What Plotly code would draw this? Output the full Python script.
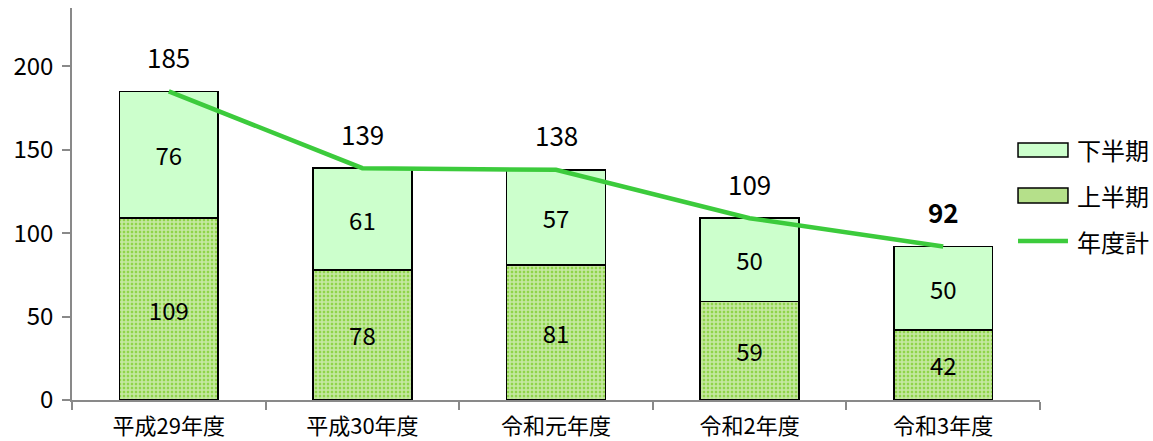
import plotly.graph_objects as go

categories = ["平成29年度", "平成30年度", "令和元年度", "令和2年度", "令和3年度"]
first_half = [109, 78, 81, 59, 42]
second_half = [76, 61, 57, 50, 50]
totals = [185, 139, 138, 109, 92]
y_ticks = [0, 50, 100, 150, 200]
legend_names = ["下半期", "上半期", "年度計"]

FONT = "Noto Sans CJK JP"
GRAY = "#898989"
LIGHT = "#CCFFCC"
GREEN = "#8FD44A"
LINE = "#3CCB3C"

fig = go.Figure()
fig.add_trace(go.Bar(
    x=categories, y=first_half, name=legend_names[1],
    marker=dict(color=GREEN,
                line=dict(color="black", width=1.5),
                pattern=dict(shape="+", bgcolor=GREEN, fgcolor="white",
                             size=4, solidity=0.62, fillmode="overlay")),
    text=[str(v) for v in first_half], textposition="inside",
    insidetextanchor="middle", textangle=0,
    textfont=dict(color="black", size=24, family=FONT),
    width=0.51, showlegend=False,
))
fig.add_trace(go.Bar(
    x=categories, y=second_half, name=legend_names[0],
    marker=dict(color=LIGHT, line=dict(color="black", width=1.5)),
    text=[str(v) for v in second_half], textposition="inside",
    insidetextanchor="middle", textangle=0,
    textfont=dict(color="black", size=24, family=FONT),
    width=0.51, showlegend=False,
))
fig.add_trace(go.Scatter(
    x=categories, y=totals, name=legend_names[2], mode="lines",
    line=dict(color=LINE, width=4.5), showlegend=False,
))

for i, (c, t) in enumerate(zip(categories, totals)):
    fig.add_annotation(
        x=c, y=t, text=(f"<b>{t}</b>" if i == len(totals) - 1 else str(t)),
        showarrow=False, yshift=35,
        font=dict(size=26, color="black", family=FONT),
    )

# custom legend (symbol boxes + labels)
lx0, lx1, tx = 0.9773, 1.0289, 1.0362
fig.add_shape(type="rect", xref="paper", yref="paper",
              x0=lx0, x1=lx1, y0=0.6199, y1=0.6556,
              fillcolor=LIGHT, line=dict(color="black", width=1.5))
fig.add_shape(type="rect", xref="paper", yref="paper",
              x0=lx0, x1=lx1, y0=0.5026, y1=0.5408,
              fillcolor="#B5E08A", line=dict(color="black", width=1.5))
fig.add_shape(type="line", xref="paper", yref="paper",
              x0=lx0, x1=lx1, y0=0.4056, y1=0.4056,
              line=dict(color=LINE, width=4.5))
for name, yc in zip(legend_names, [0.6378, 0.5217, 0.4056]):
    fig.add_annotation(x=tx, y=yc, xref="paper", yref="paper", text=name,
                       showarrow=False, xanchor="left", yanchor="middle",
                       font=dict(size=24, color="black", family=FONT))

fig.update_layout(
    width=1153, height=441,
    margin=dict(l=72, r=113, t=8, b=41),
    barmode="stack",
    plot_bgcolor="white", paper_bgcolor="white",
    font=dict(family=FONT, size=22, color="black"),
    showlegend=False,
)
fig.update_yaxes(range=[0, 235], tickvals=y_ticks, showgrid=False,
                 showline=True, linecolor=GRAY, linewidth=1.5,
                 ticks="outside", ticklen=8, tickcolor=GRAY, tickwidth=1.5,
                 tickfont=dict(size=24, family=FONT), zeroline=False,
                 ticklabelstandoff=4, automargin=False)
fig.update_xaxes(showline=True, linecolor=GRAY, linewidth=1.5,
                 ticks="outside", ticklen=8, tickcolor=GRAY, tickwidth=1.5,
                 tickson="boundaries", ticklabelstandoff=6, automargin=False,
                 tickfont=dict(size=22, family=FONT))

fig.write_html("out.html")
